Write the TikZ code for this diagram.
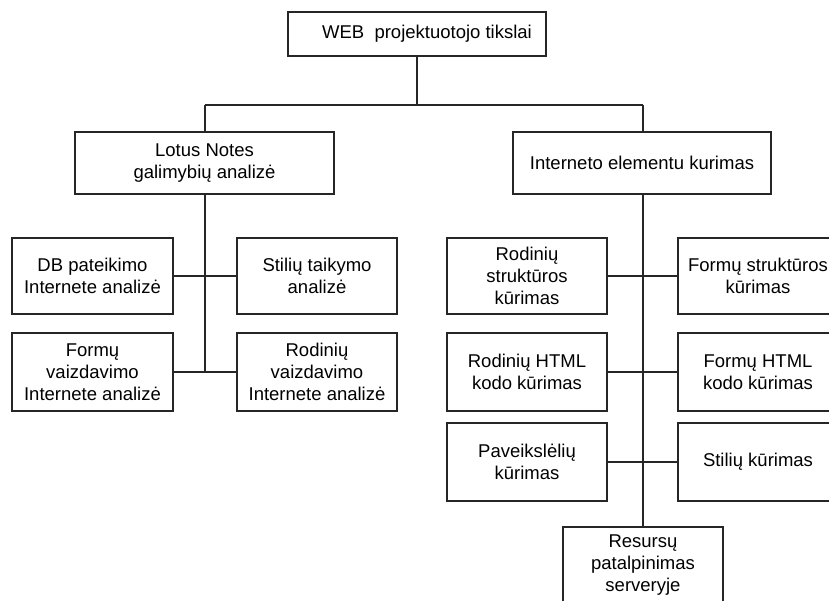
\documentclass[tikz,border=0pt]{standalone}
\usepackage{fontspec}
\setmainfont{Liberation Sans}
\begin{document}
\begin{tikzpicture}[x=1pt,y=-1pt,
  box/.style={draw=black!85, line width=1.2pt, rectangle, inner sep=0pt, align=center,
    font=\fontsize{18.5pt}{22pt}\selectfont},
  link/.style={draw=black!85, line width=1.2pt}]
\useasboundingbox (0,0) rectangle (829,600);
\clip (0,0) rectangle (829,600);
\fill[white] (0,0) rectangle (829,600);
% boxes
\node[box, minimum width=258pt, minimum height=44pt] (top) at (417,34) {\hspace*{20pt}WEB\ \ projektuotojo tikslai};
\node[box, minimum width=259pt, minimum height=62pt] (lotus) at (204.5,163) {Lotus Notes\\galimybių analizė};
\node[box, minimum width=258pt, minimum height=62pt] (inet) at (642,163) {Interneto elementu kurimas};
\node[box, minimum width=161pt, minimum height=76pt] (db) at (92.5,276) {DB pateikimo\\Internete analizė};
\node[box, minimum width=160pt, minimum height=76pt] (stt) at (317,276) {Stilių taikymo\\analizė};
\node[box, minimum width=161pt, minimum height=78pt] (fv) at (92.5,372) {Formų\\vaizdavimo\\Internete analizė};
\node[box, minimum width=160pt, minimum height=78pt] (rv) at (317,372) {Rodinių\\vaizdavimo\\Internete analizė};
\node[box, minimum width=160pt, minimum height=76pt] (rs) at (527,276) {Rodinių\\struktūros\\kūrimas};
\node[box, minimum width=160pt, minimum height=76pt] (fs) at (758,276) {Formų struktūros\\kūrimas};
\node[box, minimum width=160pt, minimum height=78pt] (rh) at (527,372) {Rodinių HTML\\kodo kūrimas};
\node[box, minimum width=160pt, minimum height=78pt] (fh) at (758,372) {Formų HTML\\kodo kūrimas};
\node[box, minimum width=160pt, minimum height=78pt] (pv) at (527,462) {Paveikslėlių\\kūrimas};
\node[box, minimum width=160pt, minimum height=78pt] (sk) at (758,462) {Stilių kūrimas};
\node[box, minimum width=160pt, minimum height=76pt] (rsv) at (643,565) {Resursų\\patalpinimas\\serveryje};
% connectors
\coordinate (busL) at (205,105);
\coordinate (busR) at (643,105);
\draw[link] (top.south) -- (top.south |- busL);
\draw[link] (busL) -- (busR);
\draw[link] (busL) -- (busL |- lotus.north);
\draw[link] (busR) -- (busR |- inet.north);
\draw[link] (busL |- lotus.south) -- (busL |- fv.east);
\draw[link] (db.east) -- (stt.west);
\draw[link] (fv.east) -- (rv.west);
\draw[link] (rsv.north |- inet.south) -- (rsv.north);
\draw[link] (rs.east) -- (fs.west);
\draw[link] (rh.east) -- (fh.west);
\draw[link] (pv.east) -- (sk.west);
\end{tikzpicture}
\end{document}
